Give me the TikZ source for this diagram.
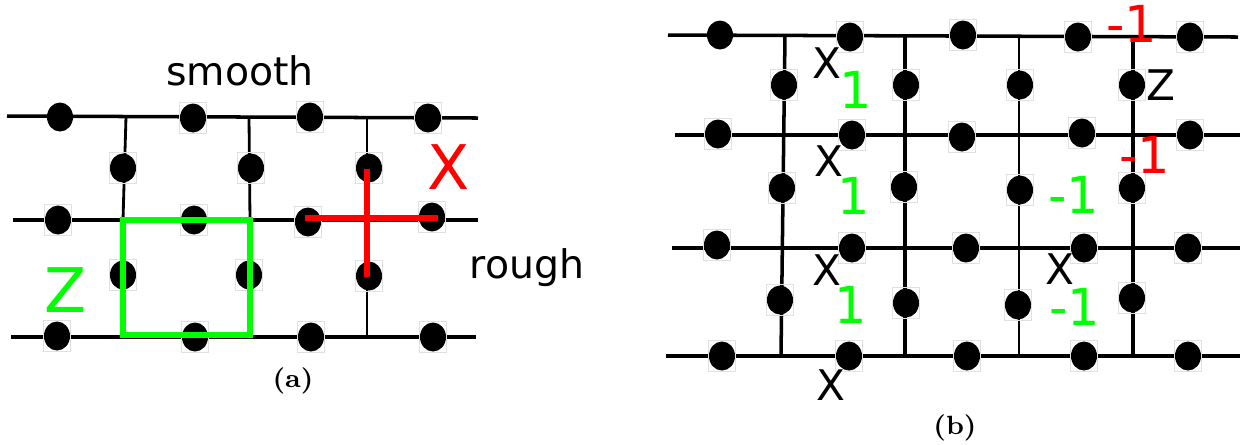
\documentclass[tikz,border=0pt]{standalone}
\usepackage{fontspec}
\setsansfont{DejaVu Sans}
\usetikzlibrary{positioning,shapes.geometric}
\tikzset{
  wire/.style={line width=1pt,black},
  thinwire/.style={line width=0.8pt,black},
  dotmark/.style={ellipse,fill=black,inner sep=0pt,minimum width=0.26cm,minimum height=0.29cm},
  dotframe/.style={draw=black!12,line width=0.3pt,inner sep=0pt,minimum width=0.27cm,minimum height=0.31cm},
  tag/.style={font=\sffamily\fontsize{11.2}{13}\selectfont,inner sep=0pt},
  bigtag/.style={font=\sffamily\fontsize{17.5}{20}\selectfont,inner sep=0pt},
  numtag/.style={font=\sffamily\fontsize{14.5}{16}\selectfont,inner sep=0pt},
  sheettag/.style={font=\sffamily\fontsize{12}{14}\selectfont,inner sep=0pt},
  caption/.style={font=\bfseries\fontsize{7.5}{9}\selectfont,inner sep=0pt},
  plaq/.style={line width=1.5pt}
}
\begin{document}
\begin{tikzpicture}[x=0.01cm,y=-0.01cm]
\useasboundingbox (0,0) rectangle (1244,444);

% left lattice
\coordinate (r1l) at (7,116); \coordinate (r1r) at (478,118);
\coordinate (r2l) at (13,220); \coordinate (r2r) at (478,220);
\coordinate (r3l) at (11,337); \coordinate (r3r) at (476,337);
\draw[wire] (r1l) -- (r1r);
\draw[wire] (r2l) -- (r2r);
\draw[wire] (r3l) -- (r3r);
\coordinate (v1t) at (126,117); \coordinate (v1b) at (123,220);
\coordinate (v2t) at (249,117); \coordinate (v2b) at (250,220);
\coordinate (v3t) at (367,118); \coordinate (v3b) at (367,337);
\draw[thinwire] (v1t) -- (v1b);
\draw[thinwire] (v2t) -- (v2b);
\draw[thinwire] (v3t) -- (v3b);
\node[dotmark] (a0) at (60,117) {};
\foreach \nm/\x/\y in {a1/193/118,a2/310/117,a3/428/118,a4/58/220,a5/194/220,a6/308/222,a7/432/217,
  a8/57/336,a9/195/337,a10/311/337,a11/433/337,a12/123/168,a13/251/168,a14/369/168,a15/123/275,a16/249/275,a17/369/276} {
  \node[dotframe] at (\x,\y) {};
  \node[dotmark] (\nm) at (\x,\y) {};
}
\coordinate (zne) at (250,220); \coordinate (znw) at (123,220);
\coordinate (zsw) at (123,335); \coordinate (zse) at (250,335);
\draw[green,plaq] (znw) -- (zne) -- (zse) -- (zsw) -- cycle;
\coordinate (xw) at (305,218); \coordinate (xe) at (438,218);
\coordinate (xn) at (367,169); \coordinate (xs) at (367,277);
\draw[red,plaq] (xw) -- (xe);
\draw[red,plaq] (xn) -- (xs);
\node[tag] (smooth) at (240,71) {smooth};
\node[tag] (rough) at (527,268) {rough};
\node[bigtag,red] (xlab) at (449,167) {X};
\node[bigtag,green] (zlab) at (66,290) {Z};
\node[caption] (capa) at (293,381) {(a)};

% right lattice
\coordinate (s1l) at (668,35); \coordinate (s1r) at (1238,37);
\coordinate (s2l) at (675,135); \coordinate (s2r) at (1240,135);
\coordinate (s3l) at (672,248); \coordinate (s3r) at (1240,248);
\coordinate (s4l) at (666,356); \coordinate (s4r) at (1240,356);
\foreach \a/\b in {s1l/s1r,s2l/s2r,s3l/s3r,s4l/s4r} {
  \draw[wire] (\a) -- (\b);
}
\coordinate (c1t) at (785,36); \coordinate (c1b) at (781,356);
\coordinate (c2t) at (905,36); \coordinate (c2b) at (905,356);
\coordinate (c3t) at (1019,36); \coordinate (c3b) at (1019,356);
\coordinate (c4t) at (1133,36); \coordinate (c4b) at (1133,358);
\foreach \a/\b in {c1t/c1b,c2t/c2b,c4t/c4b} {
  \draw[wire] (\a) -- (\b);
}
\draw[thinwire] (c3t) -- (c3b);
\node[dotmark] (b0) at (720,35) {};
\foreach \nm/\x/\y in {b1/850/37,b2/963/35,b3/1078/37,b4/1190/37,b5/718/134,b6/852/135,b7/962/137,b8/1082/133,b9/1190/135,
  b10/717/245,b11/852/248,b12/966/248,b13/1084/248,b14/1188/248,b15/722/356,b16/849/356,b17/967/356,b18/1084/356,b19/1188/356,
  b20/784/85,b21/782/188,b22/780/300,b23/906/85,b24/904/187,b25/906/303,b26/1020/85,b27/1020/190,b28/1018/305,b29/1132/85,b30/1132/188,b31/1132/298} {
  \node[dotframe] at (\x,\y) {};
  \node[dotmark] (\nm) at (\x,\y) {};
}
\foreach \nm/\x/\y in {xa/827/63,xb/829/161,xc/827/270,xd/1060/269,xe/831/385} {
  \node[sheettag] (\nm) at (\x,\y) {X};
}
\node[sheettag] (zb) at (1161,85) {Z};
\foreach \nm/\x/\y in {ga/856/90,gb/854/196,gc/851/305} {
  \node[numtag,green] (\nm) at (\x,\y) {1};
}
\node[numtag,green] (gd) at (1074,195) {-1};
\node[numtag,green] (ge) at (1075,307) {-1};
\node[numtag,red] (ra) at (1132,24) {-1};
\node[numtag,red] (rb) at (1145,155) {-1};
\node[caption] (capb) at (955,428) {(b)};
\end{tikzpicture}
\end{document}
